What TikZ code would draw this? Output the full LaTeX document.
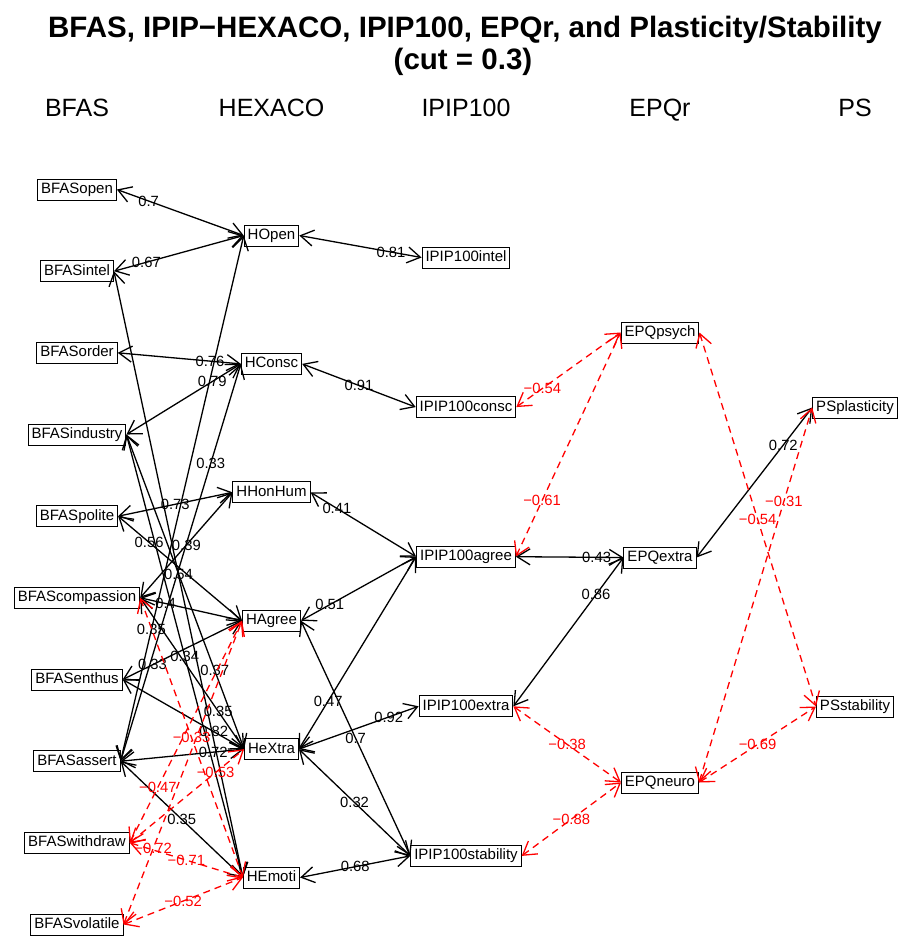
\documentclass[tikz,border=0pt]{standalone}
\usepackage{fontspec}
\setmainfont{Liberation Sans}
\usetikzlibrary{arrows.meta}
\begin{document}
\begin{tikzpicture}[x=1pt,y=-1pt,
  var/.style={draw,line width=1pt,inner xsep=3.5pt,inner ysep=3.5pt,
    font=\fontsize{15}{16}\selectfont,text height=11pt,text depth=3pt},
  hd/.style={font=\fontsize{25}{28}\selectfont,inner sep=0pt,anchor=base},
  ttl/.style={font=\fontsize{29.5}{32}\selectfont\bfseries,inner sep=0pt,anchor=base},
  barb/.tip={Straight Barb[length=13pt,width=16pt]},
  rel/.style={line width=1.3pt,barb-barb},
  neg/.style={rel,red,dash pattern=on 7pt off 5pt},
  lab/.style={font=\fontsize{14.8}{16}\selectfont,inner sep=0pt}
]
\useasboundingbox[fill=white] (0,0) rectangle (902,939);

% title and column headings
\node[ttl] (t1) at (465,38) {BFAS, IPIP−HEXACO, IPIP100, EPQr, and Plasticity/Stability};
\node[ttl] (t2) at (463,70) {(cut = 0.3)};
\node[hd] (h1) at (77,117) {BFAS};
\node[hd] (h2) at (271.5,117) {HEXACO};
\node[hd] (h3) at (466,117) {IPIP100};
\node[hd] (h4) at (660,117) {EPQr};
\node[hd] (h5) at (855,117) {PS};

% BFAS aspects
\node[var] (bo)  at (77,189.5) {BFASopen};
\node[var] (bi)  at (77,271.2) {BFASintel};
\node[var] (bor) at (77,352.8) {BFASorder};
\node[var] (bin) at (77,434.5) {BFASindustry};
\node[var] (bp)  at (77,516.2) {BFASpolite};
\node[var] (bco) at (77,597.8) {BFAScompassion};
\node[var] (be)  at (77,679.5) {BFASenthus};
\node[var] (bas) at (77,761.2) {BFASassert};
\node[var] (bw)  at (77,842.8) {BFASwithdraw};
\node[var] (bv)  at (77,924.5) {BFASvolatile};

% HEXACO
\node[var] (ho) at (271.5,235.5) {HOpen};
\node[var] (hc) at (271.5,363.9) {HConsc};
\node[var] (hh) at (271.5,492.3) {HHonHum};
\node[var] (ha) at (271.5,620.7) {HAgree};
\node[var] (hx) at (271.5,749.1) {HeXtra};
\node[var] (he) at (271.5,877.5) {HEmoti};

% IPIP100
\node[var] (i1) at (466,257.5) {IPIP100intel};
\node[var] (i2) at (466,407.1) {IPIP100consc};
\node[var] (i3) at (466,556.7) {IPIP100agree};
\node[var] (i4) at (466,706.3) {IPIP100extra};
\node[var] (i5) at (466,855.9) {IPIP100stability};

% EPQr
\node[var] (ep) at (660,332.5) {EPQpsych};
\node[var] (ex) at (660,557.5) {EPQextra};
\node[var] (en) at (660,782.5) {EPQneuro};

% Plasticity / Stability
\node[var] (pp) at (855,407.5) {PSplasticity};
\node[var] (ps) at (855,706.5) {PSstability};

% BFAS -- HEXACO
\draw[rel] (bo.east)  -- node[lab,pos=.25] {0.7}  (ho.west);
\draw[rel] (bi.east)  -- node[lab,pos=.25] {0.67} (ho.west);
\draw[rel] (bas.east) -- node[lab,pos=.25] {0.35} (ho.west);
\draw[rel] (bor.east) -- node[lab,pos=.75] {0.76} (hc.west);
\draw[rel] (bin.east) -- node[lab,pos=.75] {0.79} (hc.west);
\draw[rel] (bas.east) -- node[lab,pos=.75] {0.33} (hc.west);
\draw[rel] (bp.east)  -- node[lab,pos=.5]  {0.73} (hh.west);
\draw[rel] (bco.east) -- node[lab,pos=.5]  {0.39} (hh.west);
\draw[rel] (bp.east)  -- node[lab,pos=.25] {0.56} (ha.west);
\draw[rel] (bco.east) -- node[lab,pos=.25] {0.4}  (ha.west);
\draw[rel] (be.east)  -- node[lab,pos=.25] {0.33} (ha.west);
\draw[rel] (bin.east) -- node[lab,pos=.75] {0.37} (hx.west);
\draw[rel] (bco.east) -- node[lab,pos=.75] {0.35} (hx.west);
\draw[rel] (be.east)  -- node[lab,pos=.75] {0.82} (hx.west);
\draw[rel] (bas.east) -- node[lab,pos=.75] {0.72} (hx.west);
\draw[rel] (bi.east)  -- node[lab,pos=.5]  {0.54} (he.west);
\draw[rel] (bin.east) -- node[lab,pos=.5]  {0.34} (he.west);
\draw[rel] (bas.east) -- node[lab,pos=.5]  {0.35} (he.west);
\draw[neg] (bco.east) -- node[lab,pos=.5]  {−0.33} (he.west);
\draw[neg] (bw.east)  -- node[lab,pos=.25] {−0.47} (ha.west);
\draw[neg] (bw.east)  -- node[lab,pos=.75] {−0.53} (hx.west);
\draw[neg] (bw.east)  -- node[lab,pos=.5]  {−0.71} (he.west);
\draw[neg] (bv.east)  -- node[lab,pos=.25] {−0.72} (ha.west);
\draw[neg] (bv.east)  -- node[lab,pos=.5]  {−0.52} (he.west);

% HEXACO -- IPIP100
\draw[rel] (ho.east) -- node[lab,pos=.75] {0.81} (i1.west);
\draw[rel] (hc.east) -- node[lab,pos=.5]  {0.91} (i2.west);
\draw[rel] (hh.east) -- node[lab,pos=.25] {0.41} (i3.west);
\draw[rel] (ha.east) -- node[lab,pos=.25] {0.51} (i3.west);
\draw[rel] (hx.east) -- node[lab,pos=.25] {0.47} (i3.west);
\draw[rel] (hx.east) -- node[lab,pos=.75] {0.92} (i4.west);
\draw[rel] (ha.east) -- node[lab,pos=.5]  {0.7}  (i5.west);
\draw[rel] (hx.east) -- node[lab,pos=.5]  {0.32} (i5.west);
\draw[rel] (he.east) -- node[lab,pos=.5]  {0.68} (i5.west);

% IPIP100 -- EPQr
\draw[neg] (i2.east) -- node[lab,pos=.25] {−0.54} (ep.west);
\draw[neg] (i3.east) -- node[lab,pos=.25] {−0.61} (ep.west);
\draw[rel] (i3.east) -- node[lab,pos=.75] {0.43} (ex.west);
\draw[rel] (i4.east) -- node[lab,pos=.75] {0.86} (ex.west);
\draw[neg] (i4.east) -- node[lab,pos=.5]  {−0.38} (en.west);
\draw[neg] (i5.east) -- node[lab,pos=.5]  {−0.88} (en.west);

% EPQr -- Plasticity / Stability
\draw[rel] (ex.east) -- node[lab,pos=.75] {0.72} (pp.west);
\draw[neg] (en.east) -- node[lab,pos=.75] {−0.31} (pp.west);
\draw[neg] (ep.east) -- node[lab,pos=.5]  {−0.54} (ps.west);
\draw[neg] (en.east) -- node[lab,pos=.5]  {−0.69} (ps.west);
\end{tikzpicture}
\end{document}
